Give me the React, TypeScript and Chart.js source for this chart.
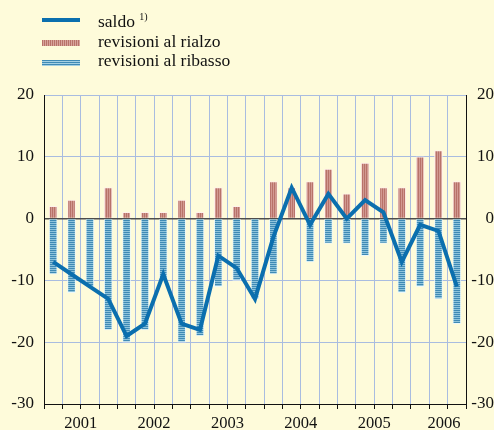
import React, { useEffect, useRef } from "react";
import { Chart, registerables } from "chart.js";

Chart.register(...registerables);

const categories = [
  "2001 T1", "2001 T2", "2001 T3", "2001 T4",
  "2002 T1", "2002 T2", "2002 T3", "2002 T4",
  "2003 T1", "2003 T2", "2003 T3", "2003 T4",
  "2004 T1", "2004 T2", "2004 T3", "2004 T4",
  "2005 T1", "2005 T2", "2005 T3", "2005 T4",
  "2006 T1", "2006 T2", "2006 T3",
];
const years = ["2001", "2002", "2003", "2004", "2005", "2006"];
const rialzo = [2, 3, 0, 5, 1, 1, 1, 3, 1, 5, 2, 0, 6, 5, 6, 8, 4, 9, 5, 5, 10, 11, 6];
const ribasso = [-9, -12, -11, -18, -20, -18, -10, -20, -19, -11, -10, -13, -9, 0, -7, -4, -4, -6, -4, -12, -11, -13, -17];
const saldo = [-7, -9, -11, -13, -19, -17, -9, -17, -18, -6, -8, -13, -3, 5, -1, 4, 0, 3, 1, -7, -1, -2, -11];
const yTicks = [20, 10, 0, -10, -20, -30];

const BG = "#fefbda";
const LINE = "#0b6fae";
const FONT = "'Liberation Serif', 'Times New Roman', serif";

function makePattern(vertical: boolean, c1: string, c2: string): CanvasPattern | string {
  const c = document.createElement("canvas");
  c.width = vertical ? 2 : 1;
  c.height = vertical ? 1 : 2;
  const g = c.getContext("2d");
  if (!g) return c1;
  g.fillStyle = c1;
  g.fillRect(0, 0, 1, 1);
  g.fillStyle = c2;
  if (vertical) g.fillRect(1, 0, 1, 1);
  else g.fillRect(0, 1, 1, 1);
  const p = g.createPattern(c, "repeat");
  return p || c1;
}

const yearLabels = {
  id: "yearLabels",
  afterDraw(chart: any) {
    const x = chart.scales.x;
    const ctx = chart.ctx;
    ctx.save();
    ctx.font = `16.5px ${FONT}`;
    ctx.fillStyle = "#111";
    ctx.textAlign = "center";
    ctx.textBaseline = "alphabetic";
    years.forEach((yr) => {
      const idx = categories.map((c, i) => (c.startsWith(yr) ? i : -1)).filter((i) => i >= 0);
      if (!idx.length) return;
      const first = idx[0];
      const last = idx[idx.length - 1];
      const extra = idx.length < 4 ? 0.3 : 0;
      const cx = x.getPixelForValue((first + last) / 2 + extra);
      ctx.fillText(yr, cx, 428);
    });
    ctx.restore();
  },
};

export default function App() {
  const ref = useRef<HTMLCanvasElement | null>(null);

  useEffect(() => {
    if (!ref.current) return;
    const pink = makePattern(true, "#b87269", "#d29a92");
    const blue = makePattern(false, "#3f8ab5", "#8ec4dc");
    const chart = new Chart(ref.current, {
      type: "bar",
      data: {
        labels: categories,
        datasets: [
          {
            type: "line",
            label: "saldo",
            data: saldo,
            borderColor: LINE,
            borderWidth: 4,
            pointRadius: 0,
            tension: 0,
            order: 0,
            yAxisID: "y",
          } as any,
          {
            type: "bar",
            label: "revisioni al rialzo",
            data: rialzo,
            backgroundColor: pink as any,
            borderColor: "rgba(255,240,236,0.9)",
            borderWidth: 1,
            barThickness: 8,
            order: 1,
            yAxisID: "y",
          },
          {
            type: "bar",
            label: "revisioni al ribasso",
            data: ribasso,
            backgroundColor: blue as any,
            borderColor: "rgba(235,248,252,0.9)",
            borderWidth: 1,
            barThickness: 8,
            order: 2,
            yAxisID: "y",
          },
        ],
      },
      options: {
        responsive: false,
        animation: false,
        layout: { padding: { top: 95, left: 0, right: 0, bottom: 0 } },
        plugins: { legend: { display: false }, tooltip: { enabled: false } },
        scales: {
          x: {
            stacked: true,
            offset: true,
            grid: {
              offset: true,
              color: "#a9bce0",
              lineWidth: 1,
              drawTicks: true,
              tickLength: 5,
              tickColor: "#111",
            },
            border: { display: true, color: "#111", width: 1 },
            ticks: { autoSkip: false, maxRotation: 0, callback: () => "", font: { size: 1 } },
            afterFit: (s: any) => {
              s.height = 26;
            },
          },
          y: {
            position: "left",
            stacked: false,
            min: -30,
            max: 20,
            afterBuildTicks: (s: any) => {
              s.ticks = yTicks.map((v) => ({ value: v }));
            },
            grid: {
              color: (c: any) => (c.tick && c.tick.value === 0 ? "#4d4d4d" : "#a9bce0"),
              lineWidth: (c: any) => (c.tick && c.tick.value === 0 ? 1.5 : 1),
              drawTicks: false,
            },
            border: { display: true, color: "#111", width: 1 },
            ticks: {
              padding: 10,
              color: "#111",
              font: { family: FONT, size: 17 },
              callback: (v: any) => String(v),
            },
            afterFit: (s: any) => {
              s.width = 44;
            },
          },
          y2: {
            position: "right",
            min: -30,
            max: 20,
            afterBuildTicks: (s: any) => {
              s.ticks = yTicks.map((v) => ({ value: v }));
            },
            grid: { drawOnChartArea: false, drawTicks: false },
            border: { display: true, color: "#111", width: 1 },
            ticks: {
              padding: 5,
              crossAlign: "far",
              color: "#111",
              font: { family: FONT, size: 17 },
              callback: (v: any) => String(v),
            },
            afterFit: (s: any) => {
              s.width = 28;
            },
          },
        },
      },
      plugins: [yearLabels],
    });
    return () => chart.destroy();
  }, []);

  const textStyle: React.CSSProperties = {
    position: "absolute",
    left: 98,
    fontFamily: FONT,
    fontSize: 17.5,
    lineHeight: "17px",
    color: "#111",
    whiteSpace: "nowrap",
  };

  return (
    <div style={{ position: "fixed", left: 0, top: 0, width: 494, height: 430, background: BG, overflow: "hidden" }}>
      <canvas ref={ref} width={494} height={430} style={{ position: "absolute", left: 0, top: 0, width: 494, height: 430 }} />
      <div style={{ position: "absolute", left: 42, top: 18, width: 38, height: 4, background: LINE }} />
      <div
        style={{
          position: "absolute",
          left: 42,
          top: 40,
          width: 38,
          height: 6,
          background: "repeating-linear-gradient(90deg, #b87269 0px, #b87269 1px, #d8a49c 1px, #d8a49c 2px)",
        }}
      />
      <div
        style={{
          position: "absolute",
          left: 42,
          top: 60,
          width: 38,
          height: 6,
          background: "repeating-linear-gradient(180deg, #3f8ab5 0px, #3f8ab5 1px, #a4d0e2 1px, #a4d0e2 2px)",
        }}
      />
      <div style={{ ...textStyle, top: 13 }}>
        saldo <sup style={{ fontSize: 10, verticalAlign: 0, position: "relative", top: -7 }}>1)</sup>
      </div>
      <div style={{ ...textStyle, top: 33 }}>revisioni al rialzo</div>
      <div style={{ ...textStyle, top: 52 }}>revisioni al ribasso</div>
    </div>
  );
}
